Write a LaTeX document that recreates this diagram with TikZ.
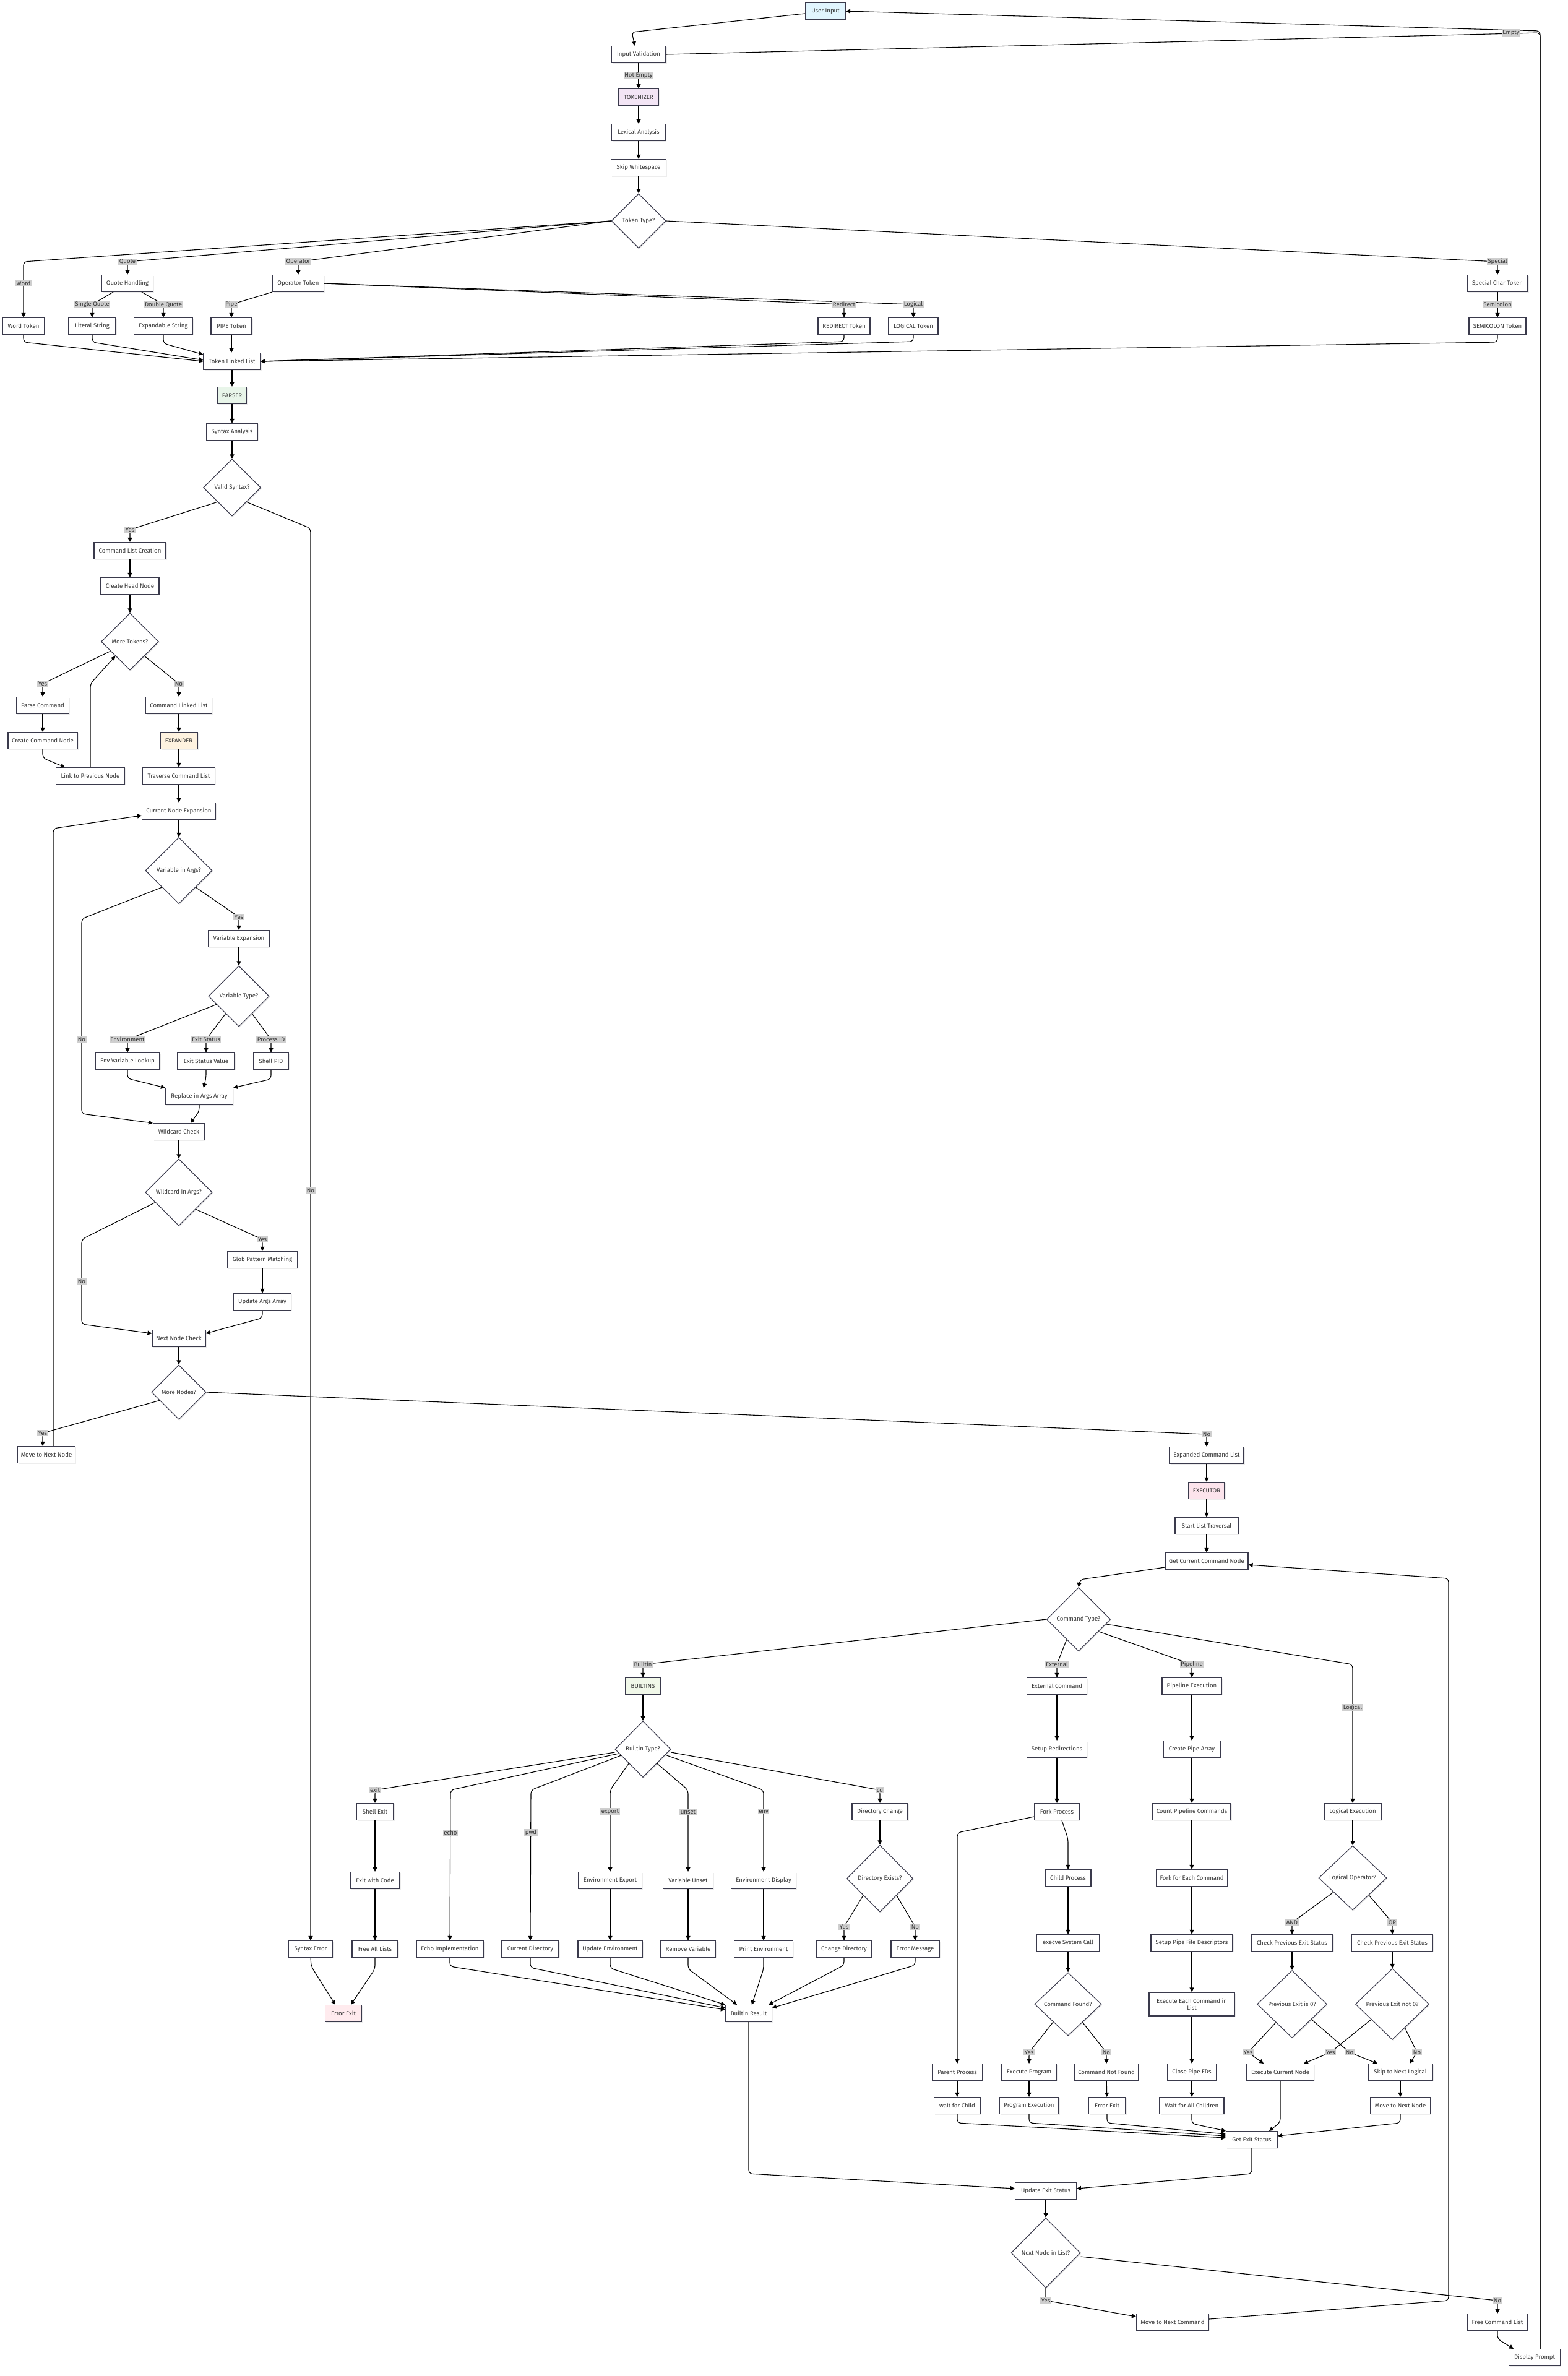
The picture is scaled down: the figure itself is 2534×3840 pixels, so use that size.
\documentclass[tikz,border=0pt]{standalone}
\usepackage{fontspec}
\setmainfont{Fira Sans}
\usetikzlibrary{arrows.meta,shapes.geometric,calc,shadows}
\definecolor{bordc}{HTML}{3A3A4C}
\definecolor{txtc}{HTML}{333333}
\definecolor{lblbg}{HTML}{CFCFCF}
\definecolor{cblue}{HTML}{E1F5FE}
\definecolor{cpurple}{HTML}{F3E5F5}
\definecolor{cgreen}{HTML}{E8F5E9}
\definecolor{corange}{HTML}{FFF3E0}
\definecolor{cpink}{HTML}{FCE4EC}
\definecolor{clime}{HTML}{F1F8E9}
\definecolor{cred}{HTML}{FFEBEE}
\begin{document}
\begin{tikzpicture}[x=1pt,y=-1pt,
  shd/.style={drop shadow={shadow xshift=1.5pt,shadow yshift=-1.5pt,fill=black,opacity=0.07}},
  bx/.style={draw=bordc,line width=1.1pt,fill=white,minimum height=27,inner sep=2pt,text=txtc,font=\fontsize{9.6}{11}\selectfont,shd},
  dia/.style={diamond,draw=bordc,line width=1.1pt,fill=white,inner sep=0pt,text=txtc,font=\fontsize{9.6}{11}\selectfont,shd},
  lbl/.style={fill=lblbg,text=txtc,inner xsep=1.5pt,inner ysep=1.5pt,font=\fontsize{9.6}{11}\selectfont},
  arr/.style={line width=1.1pt,draw=black,rounded corners=6pt,-{Triangle[length=7pt,width=7pt]}},
  ln/.style={line width=1.1pt,draw=black,rounded corners=6pt}]
\fill[white] (0,0) rectangle (2534,3840);
\useasboundingbox (0,0) rectangle (2534,3840);

% ---------- tokenizer ----------
\node[bx,fill=cblue,minimum width=65] (ui) at (1334,18) {User Input};
\node[bx,minimum width=88] (iv) at (1032,88) {Input Validation};
\node[bx,fill=cpurple,minimum width=64] (tok) at (1032,157) {TOKENIZER};
\node[bx,minimum width=87] (lex) at (1032,214) {Lexical Analysis};
\node[bx,minimum width=89] (skip) at (1032,271) {Skip Whitespace};
\node[dia,minimum width=88,minimum height=88] (ttype) at (1032,357) {Token Type?};
\node[bx,minimum width=83] (qh) at (206,458) {Quote Handling};
\node[bx,minimum width=83] (ot) at (482,458) {Operator Token};
\node[bx,minimum width=98] (sct) at (2420,458) {Special Char Token};
\node[bx,minimum width=67] (wt) at (38,527) {Word Token};
\node[bx,minimum width=76] (ls) at (149,527) {Literal String};
\node[bx,minimum width=95] (es) at (264,527) {Expandable String};
\node[bx,minimum width=66] (pt) at (374,527) {PIPE Token};
\node[bx,minimum width=84] (rt) at (1364,527) {REDIRECT Token};
\node[bx,minimum width=80] (lt) at (1476,527) {LOGICAL Token};
\node[bx,minimum width=92] (semi) at (2420,527) {SEMICOLON Token};
\node[bx,minimum width=92] (tll) at (375,584) {Token Linked List};
% ---------- parser ----------
\node[bx,fill=cgreen,minimum width=47] (parser) at (375,639) {PARSER};
\node[bx,minimum width=83] (sa) at (375,698) {Syntax Analysis};
\node[dia,minimum width=93,minimum height=92] (vs) at (375,788) {Valid Syntax?};
\node[bx,minimum width=116] (clc) at (210,890) {Command List Creation};
\node[bx,minimum width=94] (chn) at (210,947) {Create Head Node};
\node[dia,minimum width=93,minimum height=92] (mt) at (210,1037) {More Tokens?};
\node[bx,minimum width=85] (pc) at (69,1140) {Parse Command};
\node[bx,minimum width=112] (ccn) at (69,1197) {Create Command Node};
\node[bx,minimum width=111] (lpn) at (146,1254) {Link to Previous Node};
\node[bx,minimum width=107] (cll) at (289,1140) {Command Linked List};
% ---------- expander ----------
\node[bx,fill=corange,minimum width=60] (exp) at (289,1197) {EXPANDER};
\node[bx,minimum width=117] (tcl) at (289,1254) {Traverse Command List};
\node[bx,minimum width=119] (cne) at (289,1311) {Current Node Expansion};
\node[dia,minimum width=108,minimum height=107] (via) at (289,1407) {Variable in Args?};
\node[bx,minimum width=99] (ve) at (386,1517) {Variable Expansion};
\node[dia,minimum width=98,minimum height=98] (vt) at (386,1610) {Variable Type?};
\node[bx,minimum width=104] (evl) at (206,1715) {Env Variable Lookup};
\node[bx,minimum width=92] (esv) at (333,1715) {Exit Status Value};
\node[bx,minimum width=57] (spid) at (438,1715) {Shell PID};
\node[bx,minimum width=109] (ria) at (322,1772) {Replace in Args Array};
\node[bx,minimum width=83] (wc) at (289,1829) {Wildcard Check};
\node[dia,minimum width=108,minimum height=108] (wia) at (289,1927) {Wildcard in Args?};
\node[bx,minimum width=113] (gpm) at (424,2036) {Glob Pattern Matching};
\node[bx,minimum width=93] (uaa) at (424,2104) {Update Args Array};
\node[bx,minimum width=86] (nnc) at (289,2163) {Next Node Check};
\node[dia,minimum width=88,minimum height=88] (mn) at (289,2250) {More Nodes?};
\node[bx,minimum width=93] (mnn) at (75,2351) {Move to Next Node};
% ---------- executor ----------
\node[bx,minimum width=120] (ecl) at (1950,2352) {Expanded Command List};
\node[bx,fill=cpink,minimum width=58] (exe) at (1950,2409) {EXECUTOR};
\node[bx,minimum width=102] (slt) at (1950,2466) {Start List Traversal};
\node[bx,minimum width=134] (gccn) at (1950,2523) {Get Current Command Node};
\node[dia,minimum width=103,minimum height=103] (ct) at (1743,2617) {Command Type?};
% ---------- builtins ----------
\node[bx,fill=clime,minimum width=57] (bi) at (1039,2725) {BUILTINS};
\node[dia,minimum width=90,minimum height=91] (bt) at (1039,2827) {Builtin Type?};
\node[bx,minimum width=60] (se) at (606,2928) {Shell Exit};
\node[bx,minimum width=90] (dc) at (1422,2928) {Directory Change};
\node[bx,minimum width=80] (ewc) at (606,3039) {Exit with Code};
\node[bx,minimum width=103] (ee) at (986,3039) {Environment Export};
\node[bx,minimum width=81] (vu) at (1112,3039) {Variable Unset};
\node[bx,minimum width=105] (ed) at (1234,3039) {Environment Display};
\node[dia,minimum width=107,minimum height=108] (de) at (1422,3036) {Directory Exists?};
\node[bx,minimum width=71] (synerr) at (502,3150) {Syntax Error};
\node[bx,minimum width=74] (fal) at (606,3150) {Free All Lists};
\node[bx,minimum width=108] (ei) at (727,3150) {Echo Implementation};
\node[bx,minimum width=92] (cdir) at (857,3150) {Current Directory};
\node[bx,minimum width=104] (ue) at (986,3150) {Update Environment};
\node[bx,minimum width=88] (rv) at (1112,3150) {Remove Variable};
\node[bx,minimum width=95] (pe) at (1234,3150) {Print Environment};
\node[bx,minimum width=88] (chd) at (1364,3150) {Change Directory};
\node[bx,minimum width=78] (em) at (1479,3150) {Error Message};
\node[bx,fill=cred,minimum width=59] (eex) at (555,3254) {Error Exit};
\node[bx,minimum width=75] (br) at (1210,3254) {Builtin Result};
% ---------- external / pipeline / logical ----------
\node[bx,minimum width=97] (extc) at (1708,2725) {External Command};
\node[bx,minimum width=96] (pex) at (1926,2725) {Pipeline Execution};
\node[bx,minimum width=97] (sr) at (1708,2827) {Setup Redirections};
\node[bx,minimum width=92] (cpa) at (1926,2827) {Create Pipe Array};
\node[bx,minimum width=73] (fp) at (1708,2928) {Fork Process};
\node[bx,minimum width=126] (cpc) at (1926,2928) {Count Pipeline Commands};
\node[bx,minimum width=92] (le) at (2186,2928) {Logical Execution};
\node[bx,minimum width=74] (chp) at (1726,3035) {Child Process};
\node[bx,minimum width=115] (fec) at (1926,3035) {Fork for Each Command};
\node[dia,minimum width=110,minimum height=104] (lo) at (2186,3035) {Logical Operator?};
\node[bx,minimum width=101] (evs) at (1726,3140) {execve System Call};
\node[bx,minimum width=132] (spfd) at (1926,3140) {Setup Pipe File Descriptors};
\node[bx,minimum width=132] (cpa1) at (2088,3140) {Check Previous Exit Status};
\node[bx,minimum width=131] (cpo1) at (2250,3140) {Check Previous Exit Status};
\node[dia,minimum width=108,minimum height=102] (cf) at (1726,3239) {Command Found?};
\node[bx,minimum width=138,minimum height=38,align=center] (eecl) at (1926,3239) {Execute Each Command in\\List};
\node[dia,minimum width=113,minimum height=109] (pz) at (2088,3239) {Previous Exit is 0?};
\node[dia,minimum width=119,minimum height=115] (pnz) at (2250,3239) {Previous Exit not 0?};
\node[bx,minimum width=81] (pp) at (1547,3349) {Parent Process};
\node[bx,minimum width=88] (ep) at (1663,3349) {Execute Program};
\node[bx,minimum width=103] (cnf) at (1788,3349) {Command Not Found};
\node[bx,minimum width=79] (cpf) at (1926,3349) {Close Pipe FDs};
\node[bx,minimum width=109] (ecn) at (2069,3349) {Execute Current Node};
\node[bx,minimum width=104] (snl) at (2263,3349) {Skip to Next Logical};
\node[bx,minimum width=75] (wfc) at (1547,3403) {wait for Child};
\node[bx,minimum width=96] (pexn) at (1663,3403) {Program Execution};
\node[bx,minimum width=60] (eex2) at (1789,3403) {Error Exit};
\node[bx,minimum width=104] (wac) at (1926,3403) {Wait for All Children};
\node[bx,minimum width=97] (mnn2) at (2263,3403) {Move to Next Node};
\node[bx,minimum width=83] (ges) at (2023,3458) {Get Exit Status};
\node[bx,minimum width=99] (ues) at (1690,3541) {Update Exit Status};
\node[dia,minimum width=112,minimum height=113] (nnl) at (1690,3641) {Next Node in List?};
\node[bx,minimum width=117] (mnc) at (1895,3753) {Move to Next Command};
\node[bx,minimum width=97] (fcl) at (2420,3753) {Free Command List};
\node[bx,minimum width=83] (dp) at (2480,3810) {Display Prompt};

% ================= connectors =================
% top
\draw[arr] ([yshift=-4pt]ui.west) -- (1021,52) -- ([xshift=-6pt]iv.north);
\draw[ln] (iv.east) -- (2489,53) -- ([xshift=9pt]dp.north);
\draw[arr] ([xshift=9pt]dp.north) -- (2489,50) -- (ui.east);
\draw[arr] (iv) -- (tok);
\draw[arr] (tok) -- (lex);
\draw[arr] (lex) -- (skip);
\draw[arr] (skip) -- (ttype);
% token type
\draw[arr] (ttype.west) -- (38,423) -- (wt.north);
\draw[arr] (ttype.west) -- (206,423) -- (qh.north);
\draw[arr] (ttype.west) -- (482,423) -- (ot.north);
\draw[arr] (ttype.east) -- (2420,423) -- (sct.north);
\draw[arr] ([xshift=-23pt]qh.south) -- (149,492) -- (ls.north);
\draw[arr] ([xshift=23pt]qh.south) -- (264,492) -- (es.north);
\draw[arr] (ot.south west) -- (374,492) -- (pt.north);
\draw[arr] (ot.east) -- (1364,492) -- (rt.north);
\draw[arr] (ot.east) -- (1476,492) -- (lt.north);
\draw[arr] (sct) -- (semi);
\draw[arr] (wt.south) -- (38,553) -- (tll.west);
\draw[arr] (ls.south) -- (149,553) -- ([yshift=2pt]tll.west);
\draw[arr] (es.south) -- (264,555) -- ([yshift=-3pt]tll.north west);
\draw[arr] (pt.south) -- (pt.south |- tll.north);
\draw[arr] (rt.south) -- (1364,552) -- (tll.east);
\draw[arr] (lt.south) -- (1476,552) -- (tll.east);
\draw[arr] (semi.south) -- (2420,553) -- (tll.east);
% parser
\draw[arr] (tll) -- (parser);
\draw[arr] (parser) -- (sa);
\draw[arr] (sa) -- (vs);
\draw[arr] (vs.south west) -- (210,856) -- (clc.north);
\draw[arr] (vs.south east) -- (502,854) -- (synerr.north);
\draw[arr] (clc) -- (chn);
\draw[arr] (chn) -- (mt);
\draw[arr] ($(mt.west)!0.33!(mt.south)$) -- (69,1105) -- (pc.north);
\draw[arr] (mt.south east) -- (289,1105) -- (cll.north);
\draw[arr] (pc) -- (ccn);
\draw[arr] (ccn.south) -- (69,1225) -- ([xshift=-41pt]lpn.north);
\draw[arr] (lpn.north) -- (146,1105) -- ($(mt.west)!0.5!(mt.south)$);
% expander
\draw[arr] (cll) -- (exp);
\draw[arr] (exp) -- (tcl);
\draw[arr] (tcl) -- (cne);
\draw[arr] (cne) -- (via);
\draw[arr] (via.south east) -- (386,1482) -- (ve.north);
\draw[arr] (via.south west) -- (132,1485) -- (132,1800) -- (wc.north west);
\draw[arr] (ve) -- (vt);
\draw[arr] ($(vt.west)!0.27!(vt.south)$) -- (206,1680) -- (evl.north);
\draw[arr] ($(vt.west)!0.57!(vt.south)$) -- (333,1680) -- (esv.north);
\draw[arr] ($(vt.south)!0.43!(vt.east)$) -- (438,1680) -- (spid.north);
\draw[arr] (evl.south) -- (206,1743) -- (ria.north west);
\draw[arr] (esv.south) -- (333,1742) -- ([xshift=7pt]ria.north);
\draw[arr] (spid.south) -- (438,1744) -- (ria.north east);
\draw[arr] (ria.south) -- (322,1796) -- ([xshift=19pt]wc.north);
\draw[arr] (wc) -- (wia);
\draw[arr] (wia.south east) -- (424,2003) -- (gpm.north);
\draw[arr] ($(wia.west)!0.3!(wia.south)$) -- (132,2003) -- (132,2140) -- ([yshift=8pt]nnc.west);
\draw[arr] (gpm) -- (uaa);
\draw[arr] (uaa.south) -- (424,2130) -- ([yshift=8pt]nnc.east);
\draw[arr] (nnc) -- (mn);
\draw[arr] ($(mn.west)!0.3!(mn.south)$) -- (69,2316) -- ([xshift=-6pt]mnn.north);
\draw[arr] ([xshift=11pt]mnn.north) -- (86,1339) -- ([yshift=-7pt]cne.west);
\draw[arr] (mn.east) -- (1950,2318) -- (ecl.north);
% executor
\draw[arr] (ecl) -- (exe);
\draw[arr] (exe) -- (slt);
\draw[arr] (slt) -- (gccn);
\draw[arr] ([yshift=-10pt]gccn.west) -- (1745,2553) -- (ct.north);
\draw[arr] ([yshift=5pt]mnc.east) -- (2341,3718) -- (2341,2551) -- ([yshift=-6pt]gccn.east);
\draw[arr] (ct.west) -- (1039,2690) -- (bi.north);
\draw[arr] ($(ct.west)!0.63!(ct.south)$) -- (1708,2690) -- (extc.north);
\draw[arr] ($(ct.east)!0.38!(ct.south)$) -- (1926,2690) -- (pex.north);
\draw[arr] ($(ct.east)!0.15!(ct.south)$) -- (2186,2690) -- (le.north);
% builtins
\draw[arr] (bi) -- (bt);
\draw[arr] ([yshift=-5pt]bt.west) -- (606,2893) -- (se.north);
\draw[arr] ($(bt.west)!0.15!(bt.south)$) -- (728,2893) -- (ei.north);
\draw[arr] ($(bt.west)!0.22!(bt.south)$) -- (858,2893) -- (cdir.north);
\draw[arr] ($(bt.west)!0.5!(bt.south)$) -- (986,2893) -- (ee.north);
\draw[arr] ($(bt.south)!0.5!(bt.east)$) -- (1112,2893) -- (vu.north);
\draw[arr] ($(bt.south)!0.8!(bt.east)$) -- (1234,2893) -- (ed.north);
\draw[arr] ([yshift=-5pt]bt.east) -- (1422,2893) -- (dc.north);
\draw[arr] (se) -- (ewc);
\draw[arr] (ewc) -- (fal);
\draw[arr] (ee) -- (ue);
\draw[arr] (vu) -- (rv);
\draw[arr] (ed) -- (pe);
\draw[arr] (dc) -- (de);
\draw[arr] (de.south west) -- (1364,3114) -- (chd.north);
\draw[arr] (de.south east) -- (1479,3114) -- (em.north);
\draw[arr] (synerr.south) -- (503,3178) -- ([xshift=-13pt]eex.north);
\draw[arr] (fal.south) -- (606,3182) -- ([xshift=12pt]eex.north);
\draw[arr] (ei.south) -- (727,3178) -- ([yshift=6pt]br.west);
\draw[arr] (cdir.south) -- (857,3180) -- ([yshift=9pt]br.west);
\draw[arr] (ue.south) -- (986,3181) -- (br.north west);
\draw[arr] (rv.south) -- (1112,3182) -- ([xshift=-19pt]br.north);
\draw[arr] (pe.south) -- (1234,3182) -- ([xshift=5pt]br.north);
\draw[arr] (chd.south) -- (1364,3176) -- ([xshift=-6pt]br.north east);
\draw[arr] (em.south) -- (1479,3176) -- ([yshift=9pt]br.east);
\draw[arr] (br.south) -- (1210,3513) -- ([yshift=4pt]ues.west);
% external
\draw[arr] (extc) -- (sr);
\draw[arr] (sr) -- (fp);
\draw[arr] ([yshift=-8pt]fp.west) -- (1547,2962) -- (pp.north);
\draw[arr] ([xshift=8pt]fp.south) -- (1726,2972) -- (chp.north);
\draw[arr] (chp) -- (evs);
\draw[arr] (evs) -- (cf);
\draw[arr] ($(cf.west)!0.56!(cf.south)$) -- (1663,3317) -- (ep.north);
\draw[arr] ($(cf.south)!0.43!(cf.east)$) -- (1788,3317) -- (cnf.north);
\draw[arr] (pp) -- (wfc);
\draw[arr] (ep) -- (pexn);
\draw[arr] (cnf) -- (eex2);
% pipeline
\draw[arr] (pex) -- (cpa);
\draw[arr] (cpa) -- (cpc);
\draw[arr] (cpc) -- (fec);
\draw[arr] (fec) -- (spfd);
\draw[arr] (spfd) -- (eecl);
\draw[arr] (eecl) -- (cpf);
\draw[arr] (cpf) -- (wac);
% logical
\draw[arr] (le) -- (lo);
\draw[arr] ($(lo.west)!0.44!(lo.south)$) -- (2088,3107) -- (cpa1.north);
\draw[arr] ($(lo.south)!0.47!(lo.east)$) -- (2250,3107) -- (cpo1.north);
\draw[arr] (cpa1) -- (pz);
\draw[arr] (cpo1) -- (pnz);
\draw[arr] ($(pz.west)!0.54!(pz.south)$) -- (2017,3317) -- ([xshift=-27pt]ecn.north);
\draw[arr] ($(pz.south)!0.55!(pz.east)$) -- (2181,3317) -- ([xshift=-37pt]snl.north);
\draw[arr] ($(pnz.west)!0.43!(pnz.south)$) -- (2150,3317) -- ([xshift=38pt]ecn.north);
\draw[arr] ($(pnz.south)!0.34!(pnz.east)$) -- (2290,3317) -- ([xshift=15pt]snl.north);
\draw[arr] (snl) -- (mnn2);
% into get exit status
\draw[arr] (wfc.south) -- (1547,3431) -- ([yshift=3pt]ges.west);
\draw[arr] (pexn.south) -- (1663,3431) -- ([yshift=6pt]ges.west);
\draw[arr] (eex2.south) -- (1789,3431) -- ([yshift=9pt]ges.west);
\draw[arr] (wac.south) -- (1926,3432) -- (ges.north west);
\draw[arr] (ecn.south) -- (2069,3430) -- ([xshift=28pt]ges.north);
\draw[arr] (mnn2.south) -- (2263,3431) -- ([yshift=6pt]ges.east);
\draw[arr] (ges.south) -- (2023,3513) -- ([yshift=4pt]ues.east);
\draw[arr] (ues) -- (nnl);
\draw[arr] (nnl.south) -- (1690,3718) -- ([yshift=9pt]mnc.west);
\draw[arr] ([yshift=-6pt]nnl.east) -- (2420,3718) -- (fcl.north);
\draw[arr] (fcl.south) -- (2420,3780) -- ([xshift=-34pt]dp.north);

% ================= edge labels =================
\node[lbl] (lEmpty) at (2442,53) {Empty};
\node[lbl] (lNotEmpty) at (1032,122) {Not Empty};
\node[lbl] (lWord) at (38,458) {Word};
\node[lbl] (lQuote) at (206,423) {Quote};
\node[lbl] (lOper) at (482,423) {Operator};
\node[lbl] (lSpecial) at (2420,423) {Special};
\node[lbl] (lSingle) at (149,492) {Single Quote};
\node[lbl] (lDouble) at (264,492) {Double Quote};
\node[lbl] (lPipe) at (374,492) {Pipe};
\node[lbl] (lRedir) at (1364,492) {Redirect};
\node[lbl] (lLogTok) at (1476,492) {Logical};
\node[lbl] (lSemi) at (2420,492) {Semicolon};
\node[lbl] (lVsYes) at (210,856) {Yes};
\node[lbl] (lVsNo) at (502,1924) {No};
\node[lbl] (lMtYes) at (69,1105) {Yes};
\node[lbl] (lMtNo) at (289,1105) {No};
\node[lbl] (lViaYes) at (386,1482) {Yes};
\node[lbl] (lViaNo) at (132,1680) {No};
\node[lbl] (lEnv) at (206,1680) {Environment};
\node[lbl] (lExitSt) at (333,1680) {Exit Status};
\node[lbl] (lPid) at (438,1680) {Process ID};
\node[lbl] (lWiaYes) at (424,2003) {Yes};
\node[lbl] (lWiaNo) at (132,2071) {No};
\node[lbl] (lMnYes) at (69,2316) {Yes};
\node[lbl] (lMnNo) at (1950,2318) {No};
\node[lbl] (lBuiltin) at (1039,2690) {Builtin};
\node[lbl] (lExternal) at (1708,2690) {External};
\node[lbl] (lPipeline) at (1926,2690) {Pipeline};
\node[lbl] (lLogical) at (2186,2760) {Logical};
\node[lbl] (lexit) at (606,2893) {exit};
\node[lbl] (lecho) at (728,2962) {echo};
\node[lbl] (lpwd) at (858,2962) {pwd};
\node[lbl] (lexport) at (986,2928) {export};
\node[lbl] (lunset) at (1112,2928) {unset};
\node[lbl] (lenv) at (1234,2928) {env};
\node[lbl] (lcd) at (1422,2893) {cd};
\node[lbl] (lDeYes) at (1364,3114) {Yes};
\node[lbl] (lDeNo) at (1479,3114) {No};
\node[lbl] (lAnd) at (2088,3107) {AND};
\node[lbl] (lOr) at (2250,3107) {OR};
\node[lbl] (lCfYes) at (1663,3317) {Yes};
\node[lbl] (lCfNo) at (1788,3317) {No};
\node[lbl] (lPzYes) at (2017,3317) {Yes};
\node[lbl] (lPzNo) at (2181,3317) {No};
\node[lbl] (lPnzYes) at (2150,3317) {Yes};
\node[lbl] (lPnzNo) at (2290,3317) {No};
\node[lbl] (lNnlYes) at (1690,3718) {Yes};
\node[lbl] (lNnlNo) at (2420,3718) {No};
\end{tikzpicture}
\end{document}
